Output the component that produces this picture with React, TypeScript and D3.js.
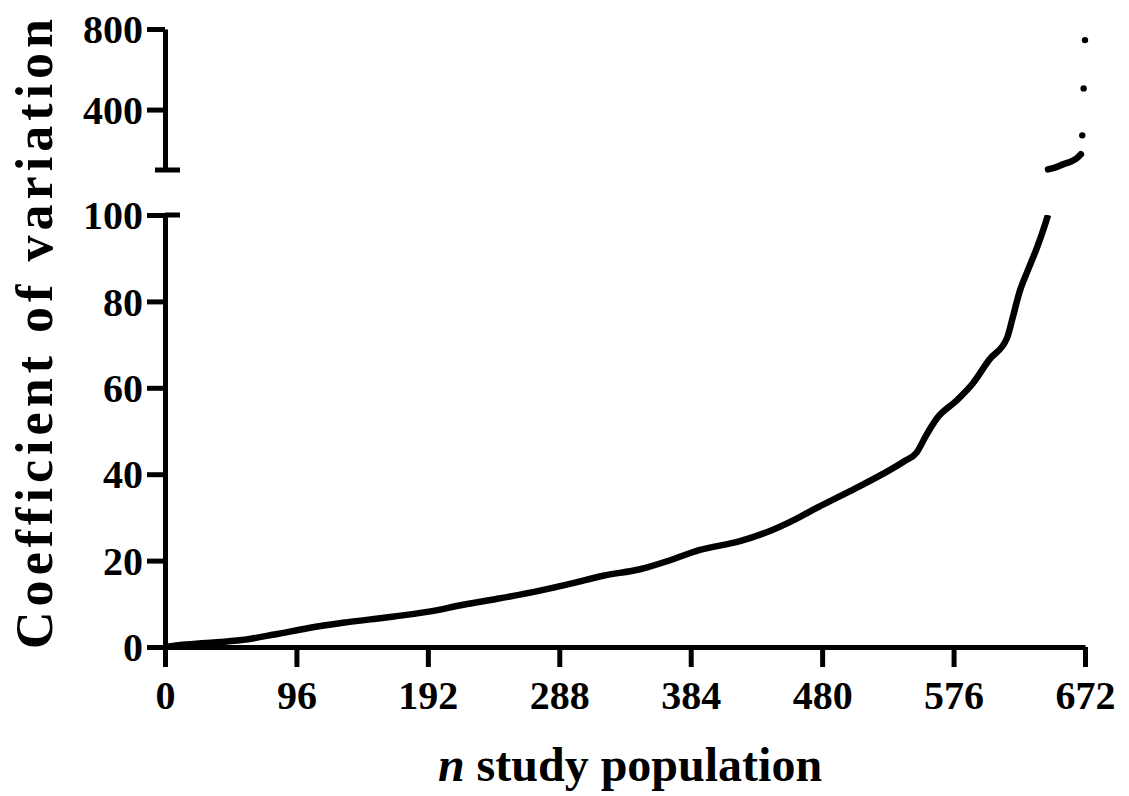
import * as d3 from "d3";
import { useRef, useEffect } from "react";

// sorted coefficient of variation per subject
const lowN = [0, 10, 30, 56, 80, 105, 130, 166, 200, 213, 240, 273, 298, 320, 347, 370, 390, 420, 439, 460, 476, 500, 524, 540, 549, 556, 564, 578, 590, 602, 615, 619, 624, 630, 637, 643, 645];
const lowCv = [0, 0.4, 0.9, 1.6, 2.9, 4.4, 5.6, 7, 8.6, 9.5, 11, 13, 14.8, 16.5, 18, 20.2, 22.4, 24.5, 26.5, 29.5, 32.2, 36, 40, 43, 45, 49, 53, 57, 61, 66.5, 71.5, 76, 82, 87, 92.5, 98, 100];
const highN = [645, 650, 656, 661, 666, 669];
const highCv = [103, 112, 128, 140, 158, 178];
const outlierN = [670, 671, 672];
const outlierCv = [272, 505, 745];

const xTicks = [0, 96, 192, 288, 384, 480, 576, 672];
const lowTicks = [0, 20, 40, 60, 80, 100];
const highTicks = [400, 800];

const FONT = '"Liberation Serif", "Times New Roman", serif';

export default function App() {
  const width = 1129;
  const height = 796;
  const gxRef = useRef<SVGGElement>(null);
  const gLowRef = useRef<SVGGElement>(null);
  const gHighRef = useRef<SVGGElement>(null);
  const chartRef = useRef<SVGGElement>(null);

  const x = d3.scaleLinear().domain([0, 672]).range([165, 1085]);
  const yLow = d3.scaleLinear().domain([0, 100]).range([647, 215]);
  const yHigh = d3.scaleLinear().domain([100, 800]).range([170, 29]);

  useEffect(() => {
    const styleAxis = (g) => {
      g.select(".domain").attr("stroke", "black").attr("stroke-width", 5);
      g.selectAll(".tick line").attr("stroke", "black").attr("stroke-width", 5);
      g.selectAll(".tick text")
        .attr("fill", "black")
        .attr("font-family", FONT)
        .attr("font-weight", "bold")
        .attr("font-size", 40);
    };

    const gx = d3.select(gxRef.current);
    gx.selectAll("*").remove();
    gx.call(d3.axisBottom(x).tickValues(xTicks).tickSize(20).tickSizeOuter(0).tickPadding(8));
    styleAxis(gx);
    gx.selectAll(".tick text").attr("dy", 0).attr("y", 62);

    const gLow = d3.select(gLowRef.current);
    gLow.selectAll("*").remove();
    gLow.call(d3.axisLeft(yLow).tickValues(lowTicks).tickSize(18).tickSizeOuter(0).tickPadding(4));
    styleAxis(gLow);
    gLow.selectAll(".tick text").attr("dy", "0.34em");

    const gHigh = d3.select(gHighRef.current);
    gHigh.selectAll("*").remove();
    gHigh.call(d3.axisLeft(yHigh).tickValues(highTicks).tickSize(18).tickSizeOuter(0).tickPadding(4));
    styleAxis(gHigh);
    gHigh.selectAll(".tick text").attr("dy", "0.34em");

    // break caps
    gHigh
      .append("line")
      .attr("x1", -10)
      .attr("x2", 15)
      .attr("y1", yHigh(100))
      .attr("y2", yHigh(100))
      .attr("stroke", "black")
      .attr("stroke-width", 5);
    gLow
      .append("line")
      .attr("x1", 0)
      .attr("x2", 15)
      .attr("y1", yLow(100))
      .attr("y2", yLow(100))
      .attr("stroke", "black")
      .attr("stroke-width", 5);

    const chart = d3.select(chartRef.current);
    chart.selectAll("*").remove();

    const lowData = lowN.map((n, i) => [n, lowCv[i]]);
    const highData = highN.map((n, i) => [n, highCv[i]]);
    const outliers = outlierN.map((n, i) => [n, outlierCv[i]]);

    chart
      .append("path")
      .datum(lowData)
      .attr("fill", "none")
      .attr("stroke", "black")
      .attr("stroke-width", 6.5)
      .attr("stroke-linejoin", "round")
      .attr(
        "d",
        d3
          .line()
          .curve(d3.curveMonotoneX)
          .x((d) => x(d[0]))
          .y((d) => yLow(d[1]))
      );

    chart
      .append("path")
      .datum(highData)
      .attr("fill", "none")
      .attr("stroke", "black")
      .attr("stroke-width", 6.5)
      .attr("stroke-linecap", "round")
      .attr(
        "d",
        d3
          .line()
          .curve(d3.curveMonotoneX)
          .x((d) => x(d[0]))
          .y((d) => yHigh(d[1]))
      );

    chart
      .selectAll(".outlier")
      .data(outliers)
      .join("circle")
      .attr("class", "outlier")
      .attr("cx", (d) => x(d[0]))
      .attr("cy", (d) => yHigh(d[1]))
      .attr("r", 3.2)
      .attr("fill", "black");
  }, []);

  return (
    <svg
      width={width}
      height={height}
      style={{ position: "absolute", left: 0, top: 0, background: "white" }}
    >
      <g ref={chartRef} />
      <g ref={gxRef} transform={`translate(0,${yLow(0)})`} />
      <g ref={gLowRef} transform={`translate(${x(0)},0)`} />
      <g ref={gHighRef} transform={`translate(${x(0)},0)`} />
      <text
        transform="translate(52,334) rotate(-90)"
        textAnchor="middle"
        fontFamily={FONT}
        fontWeight="bold"
        fontSize={52}
        textLength={630}
        lengthAdjust="spacing"
      >
        Coefficient of variation
      </text>
      <text
        x={630}
        y={781}
        textAnchor="middle"
        fontFamily={FONT}
        fontWeight="bold"
        fontSize={48}
      >
        <tspan fontStyle="italic">n</tspan> study population
      </text>
    </svg>
  );
}
